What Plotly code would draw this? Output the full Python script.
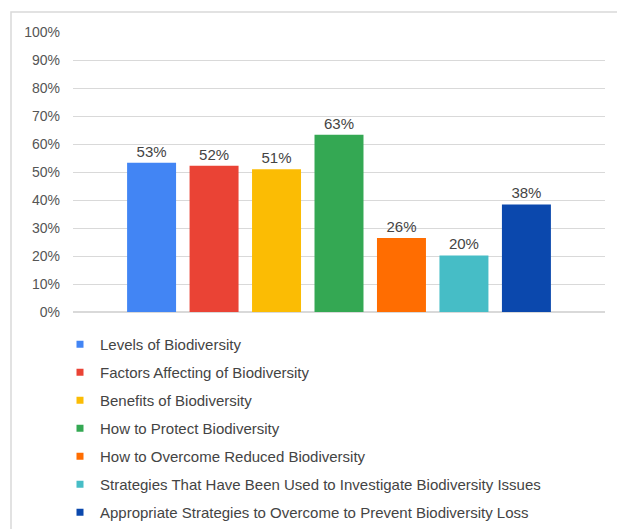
import plotly.graph_objects as go

categories = [
    "Levels of Biodiversity",
    "Factors Affecting of Biodiversity",
    "Benefits of Biodiversity",
    "How to Protect Biodiversity",
    "How to Overcome Reduced Biodiversity",
    "Strategies That Have Been Used to Investigate Biodiversity Issues",
    "Appropriate Strategies to Overcome to Prevent Biodiversity Loss",
]
values = [0.533, 0.522, 0.510, 0.633, 0.264, 0.202, 0.384]
colors = ["#4285F4", "#EA4335", "#FBBC04", "#34A853", "#FF6D01", "#46BDC6", "#0B48AD"]
y_ticks = [i / 10 for i in range(11)]

FONT = "Arial, 'Liberation Sans', sans-serif"

fig = go.Figure()
for i, (name, v, c) in enumerate(zip(categories, values, colors)):
    fig.add_trace(go.Bar(
        x=["Topic"], y=[v], name=name, marker_color=c, marker_line_width=0,
        texttemplate="%{y:.0%}", textposition="outside", cliponaxis=False,
        textfont=dict(size=15, color="#444444", family=FONT),
        showlegend=False, legendgroup=f"g{i}",
    ))
for i, (name, c) in enumerate(zip(categories, colors)):
    fig.add_trace(go.Scatter(
        x=[None], y=[None], mode="markers", name=name, legendgroup=f"g{i}",
        marker=dict(symbol="square", size=7, color=c),
    ))

W, H = 617, 529
L, R, T, B = 73, 12, 32, 217
pw, ph = W - L - R, H - T - B

fig.update_layout(
    width=W, height=H,
    margin=dict(l=L, r=R, t=T, b=B, autoexpand=False),
    paper_bgcolor="white", plot_bgcolor="white",
    barmode="group", bargap=0.178, bargroupgap=0.216,
    font=dict(family=FONT, color="#444444"),
    xaxis=dict(showticklabels=False, showgrid=False, zeroline=False, showline=False,
               ticks=""),
    yaxis=dict(range=[0, 1], tickvals=y_ticks, tickformat=".0%",
               gridcolor="#D9D9D9", gridwidth=1, zeroline=True, zerolinecolor="#D9D9D9",
               showline=False, ticks="", ticklabelstandoff=12,
               tickfont=dict(size=14, color="#555555", family=FONT)),
    legend=dict(x=(60 - L) / pw, xanchor="left", y=-(328 - (T + ph)) / ph, yanchor="top",
                font=dict(size=15, color="#444444", family=FONT),
                traceorder="grouped", tracegroupgap=5.5, itemwidth=30,
                bgcolor="rgba(0,0,0,0)"),
    showlegend=True,
)

fig.add_shape(type="rect", xref="paper", yref="paper",
              x0=(11 - L) / pw, x1=(630 - L) / pw,
              y0=-(540 - (T + ph)) / ph, y1=1 + (T - 12) / ph,
              line=dict(color="#D9D9D9", width=1.5), fillcolor="rgba(0,0,0,0)", layer="below")

fig.write_html("out.html")
